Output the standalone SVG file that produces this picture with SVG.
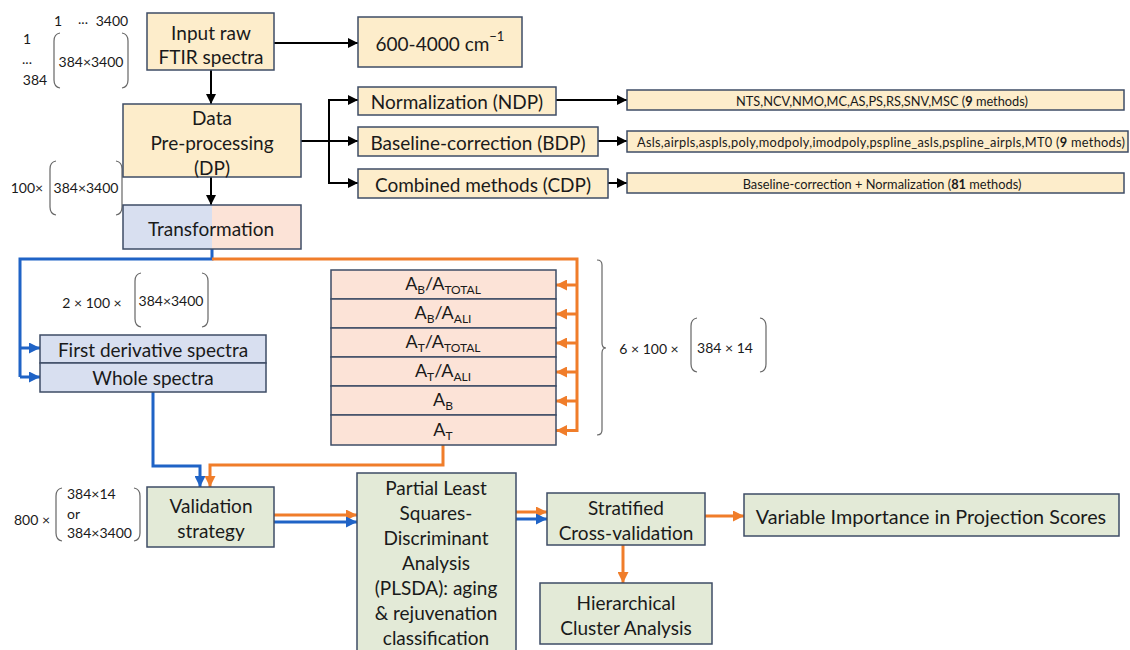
<svg xmlns="http://www.w3.org/2000/svg" width="1130" height="650" viewBox="0 0 1130 650">
<style>
text{font-family:Lato,"Open Sans","Liberation Sans",sans-serif;fill:#1a1a1a}
.t{font-size:19px;text-anchor:middle;dominant-baseline:central}
.s{font-size:14px;dominant-baseline:central}
.sm{font-size:12.8px;text-anchor:middle;dominant-baseline:central}
.y{fill:#FDEDCB;stroke:#3E4C66;stroke-width:1.5}
.b{fill:#D8DFF0;stroke:#3E4C66;stroke-width:1.5}
.p{fill:#FCE3D7;stroke:#3E4C66;stroke-width:1.5}
.g{fill:#E3EAD7;stroke:#3E4C66;stroke-width:1.5}
.k{fill:none;stroke:#000;stroke-width:2}
.bl{fill:none;stroke:#1F63C6;stroke-width:3}
.or{fill:none;stroke:#F07D2A;stroke-width:3}
.par{fill:none;stroke:#666;stroke-width:1.2}
</style>
<defs>
<marker id="ak" viewBox="0 0 10 10" refX="10" refY="5" markerWidth="10" markerHeight="10" markerUnits="userSpaceOnUse" orient="auto"><path d="M0,0 L10,5 L0,10 z" fill="#000"/></marker>
<marker id="ab" viewBox="0 0 10 10" refX="10" refY="5" markerWidth="12" markerHeight="11" markerUnits="userSpaceOnUse" orient="auto"><path d="M0,0 L10,5 L0,10 z" fill="#1F63C6"/></marker>
<marker id="ao" viewBox="0 0 10 10" refX="10" refY="5" markerWidth="12" markerHeight="11" markerUnits="userSpaceOnUse" orient="auto"><path d="M0,0 L10,5 L0,10 z" fill="#F07D2A"/></marker>
</defs>

<!-- annotations -->
<g id="ann-input">
<text class="s" x="58" y="20" text-anchor="middle">1</text>
<text class="s" x="83" y="18" text-anchor="middle">...</text>
<text class="s" x="112" y="20" text-anchor="middle">3400</text>
<text class="s" x="27" y="38" text-anchor="middle">1</text>
<text class="s" x="27" y="58" text-anchor="middle">...</text>
<text class="s" x="35" y="79" text-anchor="middle">384</text>
<path class="par" d="M60,33 Q54,34 54,41 V80 Q54,87 60,88"/>
<path class="par" d="M122,33 Q128,34 128,41 V80 Q128,87 122,88"/>
<text class="s" x="91" y="61" text-anchor="middle">384×3400</text>
</g>
<g id="ann-dp">
<text class="s" x="27" y="187" text-anchor="middle">100×</text>
<path class="par" d="M56,161 Q50,162 50,169 V207 Q50,214 56,215"/>
<path class="par" d="M116,161 Q122,162 122,169 V207 Q122,214 116,215"/>
<text class="s" x="86" y="187" text-anchor="middle">384×3400</text>
</g>
<g id="ann-2x">
<text class="s" x="92" y="302" text-anchor="middle">2 × 100 ×</text>
<path class="par" d="M141,273 Q135,274 135,281 V319 Q135,326 141,327"/>
<path class="par" d="M202,273 Q208,274 208,281 V319 Q208,326 202,327"/>
<text class="s" x="171" y="300" text-anchor="middle">384×3400</text>
</g>
<g id="ann-6x">
<path class="par" d="M597,260 Q602,260 602,265 V343 Q602,348 606,348 Q602,348 602,353 V430 Q602,435 597,435"/>
<text class="s" x="649" y="348" text-anchor="middle">6 × 100 ×</text>
<path class="par" d="M697,318 Q691,319 691,326 V364 Q691,371 697,372"/>
<path class="par" d="M760,318 Q766,319 766,326 V364 Q766,371 760,372"/>
<text class="s" x="725" y="347" text-anchor="middle">384 × 14</text>
</g>
<g id="ann-800">
<text class="s" x="32" y="519" text-anchor="middle">800 ×</text>
<path class="par" d="M62,488 Q56,489 56,496 V533 Q56,540 62,541"/>
<path class="par" d="M134,488 Q140,489 140,496 V533 Q140,540 134,541"/>
<text class="s" x="67" y="493">384×14</text>
<text class="s" x="67" y="513">or</text>
<text class="s" x="67" y="532">384×3400</text>
</g>

<!-- connectors -->
<g id="connectors">
<path class="k" d="M274,43 H358" marker-end="url(#ak)"/>
<path class="k" d="M211,70 V104" marker-end="url(#ak)"/>
<path class="k" d="M211,177 V205" marker-end="url(#ak)"/>
<path class="k" d="M301,141 H329"/>
<path class="k" d="M329,100 V183"/>
<path class="k" d="M328,100 H358" marker-end="url(#ak)"/>
<path class="k" d="M329,141 H358" marker-end="url(#ak)"/>
<path class="k" d="M328,183 H358" marker-end="url(#ak)"/>
<path class="k" d="M556,100 H627" marker-end="url(#ak)"/>
<path class="k" d="M598,141 H627" marker-end="url(#ak)"/>
<path class="k" d="M608,183 H627" marker-end="url(#ak)"/>
<path class="bl" d="M212,249 V259 H20 V377"/>
<path class="bl" d="M20,348 H40" marker-end="url(#ab)"/>
<path class="bl" d="M20,377 H40" marker-end="url(#ab)"/>
<path class="or" d="M212,259 H577 V432"/>
<path class="or" d="M577,285 H556" marker-end="url(#ao)"/>
<path class="or" d="M577,314 H556" marker-end="url(#ao)"/>
<path class="or" d="M577,343 H556" marker-end="url(#ao)"/>
<path class="or" d="M577,372 H556" marker-end="url(#ao)"/>
<path class="or" d="M577,401 H556" marker-end="url(#ao)"/>
<path class="or" d="M577,430.5 H556" marker-end="url(#ao)"/>
<path class="bl" d="M153,392 V466 H200 V487" marker-end="url(#ab)"/>
<path class="or" d="M443,445 V465 H210 V487" marker-end="url(#ao)"/>
<path class="or" d="M274,515 H357" marker-end="url(#ao)"/>
<path class="bl" d="M274,522 H357" marker-end="url(#ab)"/>
<path class="or" d="M516,512 H547" marker-end="url(#ao)"/>
<path class="bl" d="M516,519 H547" marker-end="url(#ab)"/>
<path class="or" d="M705,516 H744" marker-end="url(#ao)"/>
<path class="or" d="M623,545 V583" marker-end="url(#ao)"/>
</g>

<!-- nodes -->
<g id="n-input"><rect class="y" x="147" y="13" width="127" height="57"/>
<text class="t" x="211" y="32">Input raw</text><text class="t" x="211" y="56">FTIR spectra</text></g>
<g id="n-range"><rect class="y" x="358" y="17" width="164" height="50"/>
<text class="t" x="440" y="43">600-4000 cm<tspan font-size="13" dy="-7">−1</tspan></text></g>
<g id="n-dp"><rect class="y" x="123" y="104" width="178" height="73"/>
<text class="t" x="212" y="117">Data</text><text class="t" x="212" y="142">Pre-processing</text><text class="t" x="212" y="167">(DP)</text></g>
<g id="n-transf"><rect x="123" y="205" width="89" height="44" fill="#D8DFF0"/><rect x="212" y="205" width="89" height="44" fill="#FCE3D7"/>
<rect x="123" y="205" width="178" height="44" fill="none" stroke="#3E4C66" stroke-width="1.5"/>
<text class="t" x="211" y="228">Transformation</text></g>
<g id="n-ndp"><rect class="y" x="358" y="87" width="198" height="28"/><text class="t" x="457" y="101">Normalization (NDP)</text></g>
<g id="n-bdp"><rect class="y" x="358" y="127" width="240" height="29"/><text class="t" x="478" y="142">Baseline-correction (BDP)</text></g>
<g id="n-cdp"><rect class="y" x="358" y="169" width="250" height="29"/><text class="t" x="483" y="184">Combined methods (CDP)</text></g>
<g id="n-ndpm"><rect class="y" x="627" y="90" width="497" height="20"/><text class="sm" x="882" y="100.5">NTS,NCV,NMO,MC,AS,PS,RS,SNV,MSC (<tspan font-weight="bold">9</tspan> methods)</text></g>
<g id="n-bdpm"><rect class="y" x="627" y="131" width="501" height="21"/><text class="sm" x="881" y="141.5" textLength="488" lengthAdjust="spacing">Asls,airpls,aspls,poly,modpoly,imodpoly,pspline_asls,pspline_airpls,MT0 (<tspan font-weight="bold">9</tspan> methods)</text></g>
<g id="n-cdpm"><rect class="y" x="627" y="173" width="497" height="20"/><text class="sm" x="882" y="183.5">Baseline-correction + Normalization (<tspan font-weight="bold">81</tspan> methods)</text></g>
<g id="n-deriv"><rect class="b" x="40" y="335" width="226" height="28"/><text class="t" x="153" y="349">First derivative spectra</text></g>
<g id="n-whole"><rect class="b" x="40" y="363" width="226" height="29"/><text class="t" x="153" y="377">Whole spectra</text></g>
<g id="n-stack" font-size="18">
<rect class="p" x="331" y="270" width="225" height="29"/>
<rect class="p" x="331" y="299" width="225" height="29"/>
<rect class="p" x="331" y="328" width="225" height="29"/>
<rect class="p" x="331" y="357" width="225" height="29"/>
<rect class="p" x="331" y="386" width="225" height="29"/>
<rect class="p" x="331" y="415" width="225" height="30"/>
<text x="443" y="290" text-anchor="middle" font-size="18">A<tspan font-size="12" dy="4">B</tspan><tspan dy="-4">/A</tspan><tspan font-size="12" dy="4">TOTAL</tspan></text>
<text x="443" y="319" text-anchor="middle" font-size="18">A<tspan font-size="12" dy="4">B</tspan><tspan dy="-4">/A</tspan><tspan font-size="12" dy="4">ALI</tspan></text>
<text x="443" y="348" text-anchor="middle" font-size="18">A<tspan font-size="12" dy="4">T</tspan><tspan dy="-4">/A</tspan><tspan font-size="12" dy="4">TOTAL</tspan></text>
<text x="443" y="377" text-anchor="middle" font-size="18">A<tspan font-size="12" dy="4">T</tspan><tspan dy="-4">/A</tspan><tspan font-size="12" dy="4">ALI</tspan></text>
<text x="443" y="406" text-anchor="middle" font-size="18">A<tspan font-size="12" dy="4">B</tspan></text>
<text x="443" y="436" text-anchor="middle" font-size="18">A<tspan font-size="12" dy="4">T</tspan></text>
</g>
<g id="n-valid"><rect class="g" x="147" y="487" width="127" height="60"/>
<text class="t" x="211" y="505">Validation</text><text class="t" x="211" y="530">strategy</text></g>
<g id="n-plsda"><rect class="g" x="357" y="473" width="159" height="190"/>
<text class="t" x="436" y="487">Partial Least</text>
<text class="t" x="436" y="512.5">Squares-</text>
<text class="t" x="436" y="537.5">Discriminant</text>
<text class="t" x="436" y="562.5">Analysis</text>
<text class="t" x="436" y="587.5">(PLSDA): aging</text>
<text class="t" x="436" y="612.5">&amp; rejuvenation</text>
<text class="t" x="436" y="637">classification</text></g>
<g id="n-strat"><rect class="g" x="547" y="493" width="158" height="52"/>
<text class="t" x="626" y="507">Stratified</text><text class="t" x="626" y="532">Cross-validation</text></g>
<g id="n-hca"><rect class="g" x="540" y="583" width="172" height="61"/>
<text class="t" x="626" y="602">Hierarchical</text><text class="t" x="626" y="627">Cluster Analysis</text></g>
<g id="n-vip"><rect class="g" x="744" y="494" width="375" height="42"/>
<text class="t" x="931" y="516" style="font-size:19.8px">Variable Importance in Projection Scores</text></g>
</svg>
